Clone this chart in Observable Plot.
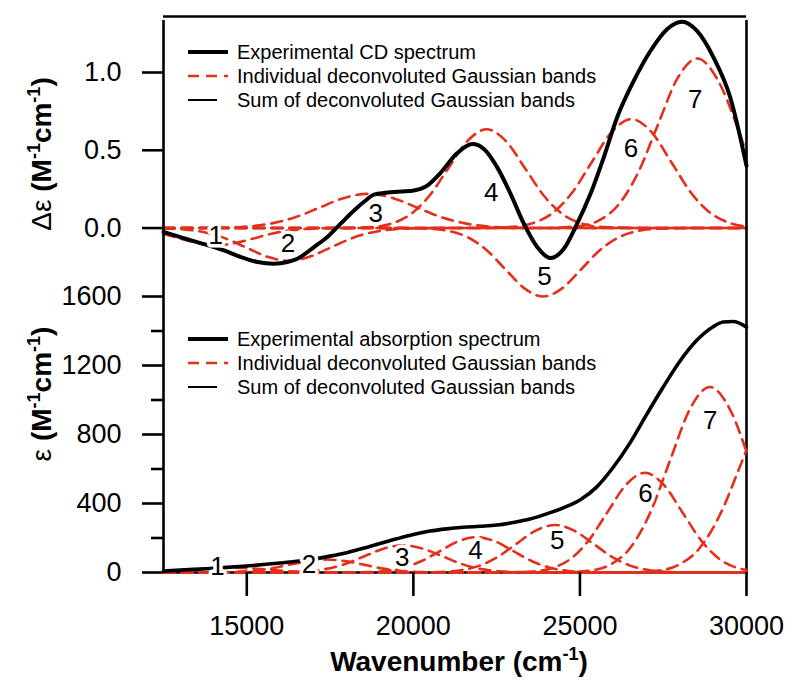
<!DOCTYPE html>
<html><head><meta charset="utf-8">
<script src="https://cdn.jsdelivr.net/npm/d3@7"></script>
<script src="https://cdn.jsdelivr.net/npm/@observablehq/plot@0.6"></script>
<style>
body{margin:0;background:#fff;}
#chart{width:800px;height:693px;position:relative;font-family:"Liberation Sans",Arial,sans-serif;}
#chart svg{display:block;overflow:visible;}
</style></head><body><div id="chart"></div>
<script>
// ---------- data ----------
const xDomain = [12500, 30000];
const xTicks = [15000, 20000, 25000, 30000];
const cdTicks = [0, 0.5, 1.0];
const absTicks = [0, 400, 800, 1200, 1600];
const absMinorTicks = [200, 600, 1000, 1400];
const cdDomain = [-0.44, 1.36];
const absDomain = [0, 1600];

// Experimental CD spectrum (wavenumber, Δε)
const cdWn  = [12500,13100,13820,14318,14818,15320,15817,16218,16518,17018,17418,17818,18218,18568,18818,19617,20017,20417,20817,21318,21768,22118,22518,22918,23317,23717,24117,24517,24917,25317,25716,26116,26616,27116,27615,28065,28515,29013,29513,30000];
const cdVal = [-0.025,-0.065,-0.11,-0.144,-0.186,-0.218,-0.229,-0.218,-0.197,-0.122,-0.058,0.028,0.113,0.177,0.215,0.235,0.242,0.273,0.355,0.482,0.54,0.508,0.39,0.22,0.028,-0.122,-0.193,-0.133,0.028,0.22,0.455,0.711,0.946,1.138,1.278,1.326,1.267,1.095,0.839,0.40];

// Experimental absorption spectrum (wavenumber, ε)
const absWn  = [12500,13000,13800,14300,15000,15500,16000,16500,17000,17500,18000,18500,19000,19500,20000,20500,21000,21500,22000,22500,23000,23500,24000,24500,25000,25500,26000,26500,27000,27500,28000,28500,29000,29300,29600,30000];
const absVal = [8,14,22,28,38,46,55,65,78,95,115,140,168,195,220,240,253,262,268,275,290,310,340,375,420,495,610,750,915,1075,1225,1345,1425,1452,1455,1422];

// Individual deconvoluted Gaussian bands, CD panel ([wavenumber, Δε])
const cdBand1 = [[12500,-0.038],[13000,-0.067],[13550,-0.097],[14100,-0.110],[14650,-0.097],[15200,-0.067],[15750,-0.036],[16300,-0.015],[16850,-0.005],[17400,-0.001],[18500,0],[30000,0]];
const cdBand2 = [[12500,-0.002],[13125,-0.009],[13750,-0.028],[14375,-0.068],[15000,-0.127],[15625,-0.185],[16250,-0.210],[16875,-0.185],[17500,-0.127],[18125,-0.068],[18750,-0.028],[19375,-0.009],[20000,-0.002],[21000,0],[30000,0]];
const cdBand3 = [[12500,0],[13500,0],[14300,0.002],[15025,0.010],[15750,0.030],[16475,0.071],[17200,0.133],[17925,0.194],[18650,0.220],[19375,0.194],[20100,0.133],[20825,0.071],[21550,0.030],[22275,0.010],[23000,0.002],[24000,0],[30000,0]];
const cdBand4 = [[12500,0],[17500,0],[18750,0.007],[19325,0.028],[19900,0.086],[20475,0.206],[21050,0.385],[21625,0.560],[22200,0.635],[22775,0.560],[23350,0.385],[23925,0.206],[24500,0.086],[25075,0.028],[25650,0.007],[27000,0],[30000,0]];
const cdBand5 = [[12500,0],[19500,0],[20510,-0.005],[21075,-0.019],[21640,-0.060],[22205,-0.143],[22770,-0.267],[23335,-0.388],[23900,-0.440],[24465,-0.388],[25030,-0.267],[25595,-0.143],[26160,-0.060],[26725,-0.019],[27290,-0.005],[28300,0],[30000,0]];
const cdBand6 = [[12500,0],[21800,0],[22980,0.008],[23575,0.031],[24170,0.095],[24765,0.227],[25360,0.425],[25955,0.618],[26550,0.700],[27145,0.618],[27740,0.425],[28335,0.227],[28930,0.095],[29525,0.031],[30000,0.010]];
const cdBand7 = [[12500,0],[23800,0],[24965,0.012],[25557,0.048],[26150,0.148],[26742,0.354],[27335,0.661],[27927,0.962],[28520,1.090],[29112,0.962],[29705,0.661],[30000,0.48]];

// Individual deconvoluted Gaussian bands, absorption panel ([wavenumber, ε])
const absBand1 = [[12500,5],[12850,9],[13400,17],[13950,25],[14500,28],[15050,25],[15600,17],[16150,9],[16700,4],[17250,1],[18000,0],[30000,0]];
const absBand2 = [[12500,0],[13500,0],[14100,1],[14650,3],[15200,10],[15750,24],[16300,46],[16850,66],[17400,75],[17950,66],[18500,46],[19050,24],[19600,10],[20150,3],[20700,1],[21500,0],[30000,0]];
const absBand3 = [[12500,0],[15500,0],[16250,2],[16825,7],[17400,21],[17975,51],[18550,96],[19125,139],[19700,158],[20275,139],[20850,96],[21425,51],[22000,21],[22575,7],[23150,2],[24000,0],[30000,0]];
const absBand4 = [[12500,0],[17800,0],[18600,2],[19150,9],[19700,28],[20250,67],[20800,124],[21350,181],[21900,205],[22450,181],[23000,124],[23550,67],[24100,28],[24650,9],[25200,2],[26000,0],[30000,0]];
const absBand5 = [[12500,0],[20000,0],[20800,3],[21375,12],[21950,37],[22525,89],[23100,167],[23675,243],[24250,275],[24825,243],[25400,167],[25975,89],[26550,37],[27125,12],[27700,3],[28500,0],[30000,0]];
const absBand6 = [[12500,0],[22700,0],[23590,6],[24150,25],[24710,78],[25270,188],[25830,351],[26390,510],[26950,578],[27510,510],[28070,351],[28630,188],[29190,78],[29750,25],[30000,14]];
const absBand7 = [[12500,0],[24400,0],[25330,12],[25925,47],[26520,145],[27115,349],[27710,652],[28305,949],[28900,1075],[29495,949],[30000,701]];
const absBand8 = [[12500,0],[26300,0],[27350,11],[27958,44],[28566,135],[29174,323],[29783,604],[30000,710]];

// Band number labels
const bandNames = ["1","2","3","4","5","6","7"];
const cdLabelWn  = [14070,16237,18867,22337,23935,26535,28464];
const cdLabelVal = [-0.047,-0.10,0.092,0.23,-0.315,0.508,0.824];
const absLabelWn  = [14120,16870,19667,21866,24318,26965,28913];
const absLabelVal = [31,46,88,128,186,456,881];

const legendTop = ["Experimental CD spectrum","Individual deconvoluted Gaussian bands","Sum of deconvoluted Gaussian bands"];
const legendBottom = ["Experimental absorption spectrum","Individual deconvoluted Gaussian bands","Sum of deconvoluted Gaussian bands"];

// ---------- build tables ----------
const RED = "#e3301c";
const FONT = '"Liberation Sans", Arial, sans-serif';
const toRows = (bands) => bands.flatMap((b, i) => b.map(([wn, val]) => ({band: i + 1, wn, val})));
const cdBandRows = toRows([cdBand1, cdBand2, cdBand3, cdBand4, cdBand5, cdBand6, cdBand7]);
const absBandRows = toRows([absBand1, absBand2, absBand3, absBand4, absBand5, absBand6, absBand7, absBand8]);
const cdRows = cdWn.map((wn, i) => ({wn, val: cdVal[i]}));
const absRows = absWn.map((wn, i) => ({wn, val: absVal[i]}));
const cdLabels = bandNames.map((t, i) => ({t, wn: cdLabelWn[i], val: cdLabelVal[i]}));
const absLabels = bandNames.map((t, i) => ({t, wn: absLabelWn[i], val: absLabelVal[i]}));

const common = {
  width: 800, marginLeft: 163, marginRight: 54,
  style: {fontFamily: FONT, fontSize: "27px", overflow: "visible", color: "black"}
};

const topPlot = Plot.plot({
  ...common, height: 296, marginTop: 16, marginBottom: 0,
  x: {domain: xDomain, axis: null},
  y: {domain: cdDomain},
  marks: [
    Plot.line(cdBandRows, {x: "wn", y: "val", z: "band", stroke: RED, strokeWidth: 2.6, strokeDasharray: "11,7", curve: "monotone-x"}),
    Plot.line(cdRows, {x: "wn", y: "val", stroke: "black", strokeWidth: 4, curve: "monotone-x"}),
    Plot.text(cdLabels, {x: "wn", y: "val", text: "t", fontSize: 26, fill: "black", stroke: "white", strokeWidth: 7, paintOrder: "stroke"}),
    Plot.ruleX(xDomain, {stroke: "black", strokeWidth: 2.6, y1: cdDomain[0], y2: cdDomain[1] - 0.025}),
    Plot.ruleY([cdDomain[1]], {stroke: "black", strokeWidth: 2.6, x1: xDomain[0], x2: xDomain[1]}),
    Plot.axisY(cdTicks, {tickSize: 21, tickPadding: 21, tickFormat: d => d.toFixed(1), strokeWidth: 2.6, fontSize: 27, label: null})
  ]
});

const bottomPlot = Plot.plot({
  ...common, height: 397, marginTop: 0, marginBottom: 121,
  x: {domain: xDomain},
  y: {domain: absDomain},
  marks: [
    Plot.ruleX(xDomain, {stroke: "black", strokeWidth: 2.6}),
    Plot.ruleY([0], {stroke: "black", strokeWidth: 2.6}),
    Plot.line(absBandRows, {x: "wn", y: "val", z: "band", stroke: RED, strokeWidth: 2.6, strokeDasharray: "11,7", curve: "monotone-x"}),
    Plot.line(absRows, {x: "wn", y: "val", stroke: "black", strokeWidth: 3.6, curve: "monotone-x"}),
    Plot.text(absLabels, {x: "wn", y: "val", text: "t", fontSize: 26, fill: "black", stroke: "white", strokeWidth: 7, paintOrder: "stroke"}),
    Plot.axisY(absTicks, {tickSize: 21, tickPadding: 21, tickFormat: d => String(d), strokeWidth: 2.6, fontSize: 27, label: null}),
    Plot.axisY(absMinorTicks, {tickSize: 12, tickFormat: () => "", strokeWidth: 2.6, label: null}),
    Plot.axisX(xTicks, {tickSize: 24, tickPadding: 19, strokeWidth: 2.6, fontSize: 27, label: null, tickFormat: d => String(d)})
  ]
});

const chart = document.getElementById("chart");
chart.appendChild(topPlot);
chart.appendChild(bottomPlot);

// force tick-label size
d3.selectAll('#chart g[aria-label$="tick label"]').attr("font-size", 27).selectAll("text").attr("font-size", 27);

// ---------- legends ----------
function addLegend(svg, labels, ys) {
  const g = d3.select(svg).append("g").attr("font-size", 20).attr("font-family", FONT).attr("text-anchor", "start");
  labels.forEach((lab, i) => {
    const y = ys[i];
    const line = g.append("line").attr("x1", 188).attr("x2", i === 2 ? 217 : 228).attr("y1", y).attr("y2", y);
    if (i === 0) line.attr("stroke", "black").attr("stroke-width", 3.8);
    if (i === 1) line.attr("stroke", RED).attr("stroke-width", 2.6).attr("stroke-dasharray", "11,7");
    if (i === 2) line.attr("stroke", "black").attr("stroke-width", 2);
    g.append("text").attr("x", 237).attr("y", y).attr("dy", "0.36em").attr("text-anchor", "start").attr("fill", "black").text(lab);
  });
}
addLegend(topPlot, legendTop, [52, 76, 100]);
addLegend(bottomPlot, legendBottom, [43, 67, 91]);

// ---------- axis titles ----------
function yTitle(svg, cx, cy, sym) {
  const t = d3.select(svg).append("text")
    .attr("transform", `translate(${cx},${cy}) rotate(-90)`)
    .attr("text-anchor", "middle").attr("font-size", 28).attr("fill", "black")
    .attr("font-family", FONT);
  t.append("tspan").text(sym + " ");
  t.append("tspan").attr("font-weight", "bold").text("(M");
  t.append("tspan").attr("font-weight", "bold").attr("font-size", 18).attr("dy", -11).text("-1");
  t.append("tspan").attr("font-weight", "bold").attr("dy", 11).text("cm");
  t.append("tspan").attr("font-weight", "bold").attr("font-size", 18).attr("dy", -11).text("-1");
  t.append("tspan").attr("font-weight", "bold").attr("dy", 11).text(")");
}
yTitle(topPlot, 51, 154, "Δε");
yTitle(bottomPlot, 51, 98, "ε");

const xt = d3.select(bottomPlot).append("text")
  .attr("x", 459).attr("y", 375).attr("text-anchor", "middle")
  .attr("font-size", 28).attr("font-weight", "bold").attr("fill", "black")
  .attr("font-family", FONT);
xt.append("tspan").text("Wavenumber (cm");
xt.append("tspan").attr("font-size", 18).attr("dy", -11).text("-1");
xt.append("tspan").attr("dy", 11).text(")");
</script>
</body></html>
